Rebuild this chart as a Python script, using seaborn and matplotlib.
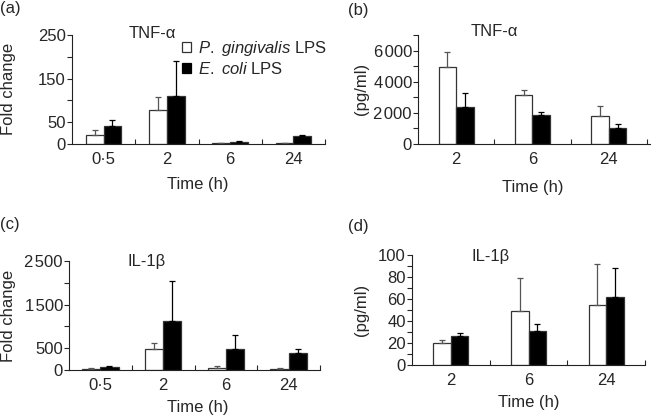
import numpy as np
import pandas as pd
import matplotlib
matplotlib.use("Agg")
import matplotlib.pyplot as plt
import seaborn as sns
from matplotlib.patches import Patch

sns.set_style("ticks")
plt.rcParams['font.family'] = ['Liberation Sans', 'DejaVu Sans']
plt.rcParams['mathtext.fontset'] = 'custom'
plt.rcParams['mathtext.it'] = 'Liberation Sans:italic'
plt.rcParams['mathtext.rm'] = 'Liberation Sans'

TS = "\u200a"  # narrow space for thousands

# (a) TNF-alpha fold change
times_a = ['0·5', '2', '6', '24']
a_pg = [20, 78, 3, 1.5]
a_pg_err = [13, 29, 0, 0]
a_ec = [42, 110, 5, 19]
a_ec_err = [14, 80, 2.5, 2]

# (b) TNF-alpha pg/ml
times_b = ['2', '6', '24']
b_pg = [4950, 3160, 1770]
b_pg_err = [930, 280, 640]
b_ec = [2350, 1880, 1030]
b_ec_err = [900, 190, 230]

# (c) IL-1beta fold change
times_c = ['0·5', '2', '6', '24']
c_pg = [30, 476, 56, 24]
c_pg_err = [16, 135, 47, 16]
c_ec = [63, 1130, 484, 397]
c_ec_err = [40, 910, 318, 79]

# (d) IL-1beta pg/ml
times_d = ['2', '6', '24']
d_pg = [20, 49, 55]
d_pg_err = [3, 30, 37]
d_ec = [26, 31, 62]
d_ec_err = [3, 6.5, 26]

groups = ['P. gingivalis LPS', 'E. coli LPS']
W, H = 651, 419
fs = 12


def px_axes(fig, l, t, r, b):
    return fig.add_axes([l / W, 1 - b / H, (r - l) / W, (b - t) / H])


def panel(ax, times, pg, pg_err, ec, ec_err, width, ylim, yticks, ylabels, xlim):
    df = pd.DataFrame({
        'time': times * 2,
        'value': pg + ec,
        'group': [groups[0]] * len(times) + [groups[1]] * len(times),
    })
    sns.barplot(data=df, x='time', y='value', hue='group', order=times,
                hue_order=groups, palette=['white', 'black'], width=width,
                errorbar=None, edgecolor='#333333', linewidth=0.9, ax=ax,
                legend=False)
    for cont, errs, col in zip(ax.containers, [pg_err, ec_err], ['#555555', 'black']):
        xs = [p.get_x() + p.get_width() / 2 for p in cont]
        hs = [p.get_height() for p in cont]
        ax.errorbar(xs, hs, yerr=[np.zeros(len(errs)), errs], fmt='none',
                    ecolor=col, elinewidth=0.9, capsize=2.5, capthick=0.9)
    ax.set_xlim(*xlim)
    ax.set_ylim(*ylim)
    ax.set_yticks(yticks)
    ax.set_yticklabels(ylabels)
    ax.set_xticks(range(len(times)))
    ax.set_xticklabels(times)
    ax.set_xticks(np.arange(len(times)) + 0.5, minor=True)
    ax.tick_params(axis='x', which='major', length=0, pad=5.5, labelsize=fs)
    ax.tick_params(axis='x', which='minor', direction='in', length=3.5, width=0.8)
    ax.tick_params(axis='y', direction='out', length=3.6, width=0.8, pad=0.8, labelsize=fs)
    ax.set_xlabel('')
    ax.set_ylabel('')
    sns.despine(ax=ax)
    for s in ['left', 'bottom']:
        ax.spines[s].set_linewidth(0.8)
        ax.spines[s].set_color('#222222')
    ax.set_facecolor('none')


fig = plt.figure(figsize=(6.51, 4.19), dpi=100)

# (a)
ax_a = px_axes(fig, 72, 35, 325, 144)
panel(ax_a, times_a, a_pg, a_pg_err, a_ec, a_ec_err, 0.56, (0, 250),
      [0, 50, 100, 150, 200, 250], ['0', '50', '', '150', '', '250'], (-0.5, 3.5))
# (b)
ax_b = px_axes(fig, 418, 35, 650, 144)
panel(ax_b, times_b, b_pg, b_pg_err, b_ec, b_ec_err, 0.46, (0, 7000),
      list(range(0, 7001, 1000)),
      ['0', '', '2' + TS + '000', '', '4' + TS + '000', '', '6' + TS + '000', ''], (-0.5, 2.54))
# (c)
ax_c = px_axes(fig, 69, 261, 320, 370)
panel(ax_c, times_c, c_pg, c_pg_err, c_ec, c_ec_err, 0.58, (0, 2500),
      list(range(0, 2501, 500)),
      ['0', '500', '', '1' + TS + '500', '', '2' + TS + '500'], (-0.5, 3.5))
# (d)
ax_d = px_axes(fig, 412, 255, 645, 365)
panel(ax_d, times_d, d_pg, d_pg_err, d_ec, d_ec_err, 0.45, (0, 100),
      list(range(0, 101, 10)),
      ['0', '', '20', '', '40', '', '60', '', '80', '', '100'], (-0.5, 2.5))


def ftext(x, y, s, **kw):
    fig.text(x / W, 1 - y / H, s, fontsize=fs, **kw)


# panel letters
ftext(0, 8, '(a)', ha='left', va='center')
ftext(348, 10, '(b)', ha='left', va='center')
ftext(0, 224, '(c)', ha='left', va='center')
ftext(348, 226, '(d)', ha='left', va='center')

# titles
ftext(152, 33, 'TNF-α', ha='center', va='center')
ftext(494, 31, 'TNF-α', ha='center', va='center')
ftext(147, 261, 'IL-1β', ha='center', va='center')
ftext(491, 256, 'IL-1β', ha='center', va='center')

# y labels
ftext(9, 89, 'Fold change', ha='center', va='center', rotation=90)
ftext(361, 89, '(pg/ml)', ha='center', va='center', rotation=90)
ftext(9, 316, 'Fold change', ha='center', va='center', rotation=90)
ftext(361, 310, '(pg/ml)', ha='center', va='center', rotation=90)

# x labels
ftext(198, 185, 'Time (h)', ha='center', va='center')
ftext(533, 187, 'Time (h)', ha='center', va='center')
ftext(198, 407, 'Time (h)', ha='center', va='center')
ftext(529, 402, 'Time (h)', ha='center', va='center')

# legend in (a)
handles = [Patch(facecolor='white', edgecolor='#333333', linewidth=0.9),
           Patch(facecolor='black', edgecolor='black', linewidth=0.9)]
labels = [r'$\mathit{P.\ gingivalis}$ LPS', r'$\mathit{E.\ coli}$ LPS']
ax_a.legend(handles, labels, loc='upper left',
            bbox_to_anchor=((182 - 72) / 253, 1.0 - (39 - 35) / 109),
            frameon=False, fontsize=fs, handlelength=0.55, handleheight=0.55,
            handletextpad=0.4, labelspacing=0.2, borderpad=0, borderaxespad=0)

fig.savefig('out.png', dpi=100)
